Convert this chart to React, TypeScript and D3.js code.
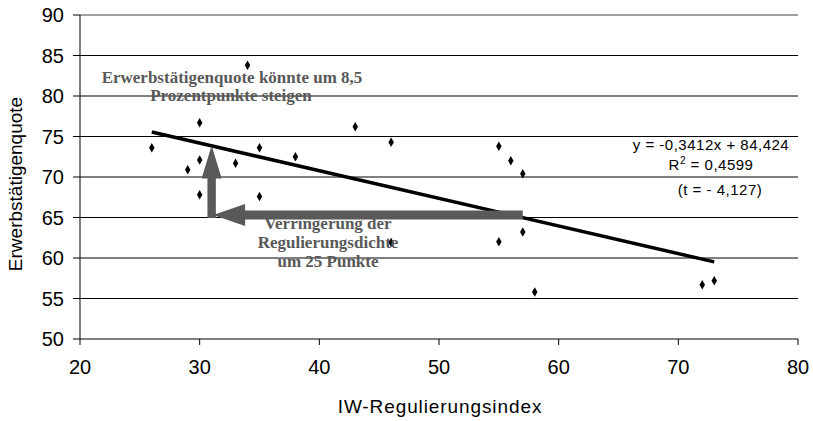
import React from "react";
import * as d3 from "d3";

const xValues = [26, 29, 30, 30, 30, 34, 33, 35, 35, 38, 43, 46, 55, 56, 57, 55, 57, 58, 72, 73, 46];
const yValues = [73.6, 70.9, 76.7, 72.1, 67.8, 83.8, 71.7, 73.6, 67.6, 72.5, 76.2, 74.3, 73.8, 72.0, 70.4, 62.0, 63.2, 55.8, 56.7, 57.2, 61.9];
const xTicks = [20, 30, 40, 50, 60, 70, 80];
const yTicks = [50, 55, 60, 65, 70, 75, 80, 85, 90];
const slope = -0.3412;
const intercept = 84.424;
const trendRange = [26, 73];
const eqLines = ["y = -0,3412x + 84,424", "R", "(t = - 4,127)"];
const note1 = ["Erwerbstätigenquote könnte um 8,5", "Prozentpunkte steigen"];
const note2 = ["Verringerung der", "Regulierungsdichte", "um 25 Punkte"];
// arrow anchors in data units
const arrowX = 31;
const arrowY = 65.3;
const arrowTopY = 73.9;
const arrowRightX = 57;

export default function App() {
  const W = 813, H = 421;
  const x = d3.scaleLinear().domain([20, 80]).range([80, 798]);
  const y = d3.scaleLinear().domain([50, 90]).range([339, 15]);
  const pts = xValues.map((v, i) => [v, yValues[i]] as [number, number]);
  const diamond = d3.symbol().type(d3.symbolDiamond).size(26)();
  const gray = "#595959";

  // vertical arrow
  const vx = x(arrowX);
  const vBottom = y(arrowY) + 3;
  const vTop = y(arrowTopY);
  const sw = 4.2, hw = 10, hl = 33;
  const vArrow = `M${vx - sw},${vBottom} L${vx - sw},${vTop + hl} L${vx - hw},${vTop + hl} L${vx},${vTop} L${vx + hw},${vTop + hl} L${vx + sw},${vTop + hl} L${vx + sw},${vBottom} Z`;
  // horizontal arrow
  const hy = y(arrowY);
  const hRight = x(arrowRightX);
  const hLeft = x(arrowX) + 1.5;
  const hsw = 4.5, hhw = 11, hhl = 32;
  const hArrow = `M${hRight},${hy - hsw} L${hLeft + hhl},${hy - hsw} L${hLeft + hhl},${hy - hhw} L${hLeft},${hy} L${hLeft + hhl},${hy + hhw} L${hLeft + hhl},${hy + hsw} L${hRight},${hy + hsw} Z`;

  return (
    <svg width={W} height={H} style={{ position: "absolute", left: 0, top: 0, background: "#fff" }}>
      <rect width={W} height={H} fill="#fff" />
      {/* gridlines */}
      {yTicks.filter((t) => t > 50).map((t) => (
        <line key={t} x1={x(20)} x2={x(80)} y1={y(t)} y2={y(t)} stroke={t === 90 ? "#808080" : "#000"} strokeWidth={t === 90 ? 1.3 : 1} />
      ))}
      {/* axes */}
      <line x1={x(20)} x2={x(20)} y1={y(90)} y2={y(50)} stroke="#000" strokeWidth={1} />
      <line x1={x(20)} x2={x(80)} y1={y(50)} y2={y(50)} stroke="#000" strokeWidth={1} />
      {yTicks.map((t) => (
        <g key={t}>
          <line x1={x(20) - 7} x2={x(20)} y1={y(t)} y2={y(t)} stroke="#000" />
          <text x={64} y={y(t) + 7} textAnchor="end" fontFamily="Liberation Sans, Arial, sans-serif" fontSize={20} fill="#000">{t}</text>
        </g>
      ))}
      {xTicks.map((t) => (
        <g key={t}>
          <line x1={x(t)} x2={x(t)} y1={y(50)} y2={y(50) + 6} stroke="#000" />
          <text x={x(t)} y={374} textAnchor="middle" fontFamily="Liberation Sans, Arial, sans-serif" fontSize={20} fill="#000">{t}</text>
        </g>
      ))}
      <text x={440} y={413} textAnchor="middle" fontFamily="Liberation Sans, Arial, sans-serif" fontSize={19} letterSpacing={0.9} fill="#000">IW-Regulierungsindex</text>
      <text transform={`translate(22,${184}) rotate(-90)`} textAnchor="middle" fontFamily="Liberation Sans, Arial, sans-serif" fontSize={19} fill="#000">Erwerbstätigenquote</text>

      {/* points */}
      {pts.map((p, i) => (
        <path key={i} d={diamond} transform={`translate(${x(p[0])},${y(p[1])})`} fill="#000" />
      ))}
      {/* trend */}
      <line x1={x(trendRange[0])} y1={y(slope * trendRange[0] + intercept)} x2={x(trendRange[1])} y2={y(slope * trendRange[1] + intercept)} stroke="#000" strokeWidth={3.5} />

      {/* arrows */}
      <path d={hArrow} fill={gray} />
      <path d={vArrow} fill={gray} />

      {/* notes */}
      <g fontFamily="Liberation Serif, Times New Roman, serif" fontWeight="bold" fontSize={17} fill={gray} textAnchor="middle">
        <text x={232} y={83}>{note1[0]}</text>
        <text x={231} y={101}>{note1[1]}</text>
        <text x={328} y={229}>{note2[0]}</text>
        <text x={328} y={248}>{note2[1]}</text>
        <text x={328} y={267}>{note2[2]}</text>
      </g>
      <g fontFamily="Liberation Sans, Arial, sans-serif" fontSize={15} letterSpacing={0.5} fill="#000" textAnchor="middle">
        <text x={711} y={150}>{eqLines[0]}</text>
        <text x={711} y={170}>{eqLines[1]}<tspan dy={-6} fontSize={10}>2</tspan><tspan dy={6}> = 0,4599</tspan></text>
        <text x={720} y={195}>{eqLines[2]}</text>
      </g>
    </svg>
  );
}
